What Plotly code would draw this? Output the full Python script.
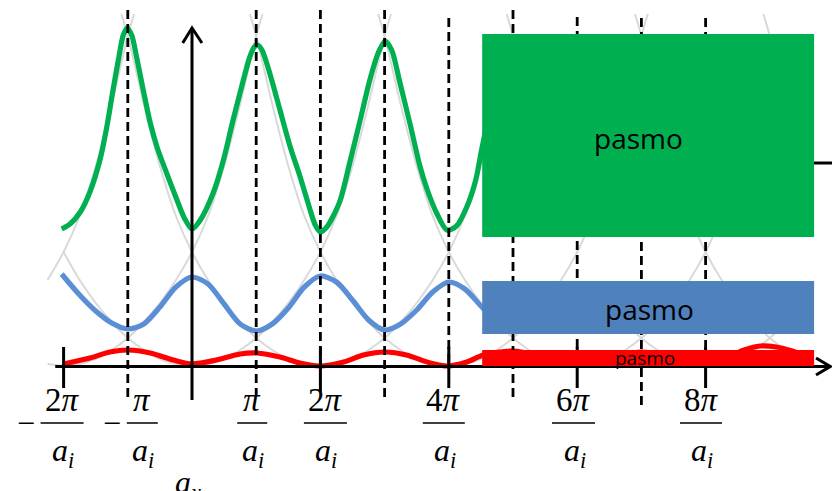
import plotly.graph_objects as go

# ---------------------------------------------------------------------------
# Data: wave vector k in units of pi/a_i, energy E in arbitrary units
# ---------------------------------------------------------------------------
green_k = [-2.03, -1.90, -1.74, -1.59, -1.43, -1.33, -1.23, -1.15, -1.07, -1.01,
           -0.94, -0.86, -0.75, -0.65, -0.54, -0.39, -0.24, -0.12, 0.00,
           0.12, 0.33, 0.49, 0.64, 0.80, 0.90, 0.97, 1.02, 1.09, 1.21, 1.37,
           1.53, 1.68, 1.84, 1.92, 2.00,
           2.10, 2.20, 2.31, 2.46, 2.62, 2.77, 2.90, 3.01, 3.11, 3.24, 3.40, 3.55,
           3.66, 3.81, 3.97, 4.12, 4.28, 4.42, 4.51, 4.62]
green_E = [137, 142, 154, 174, 207, 238, 276, 305, 331, 338,
           331, 308, 273, 243, 218, 192, 167, 148, 137,
           145, 173, 206, 246, 286, 309, 319, 321, 316, 293, 256,
           219, 190, 156, 141, 134,
           139, 150, 166, 204, 246, 286, 313, 325, 316, 283, 241, 200,
           177, 153, 136, 140, 159, 186, 216, 250]

blue_k = [-2.03, -1.75, -1.50, -1.25, -1.00, -0.75, -0.50, -0.25, 0.00,
          0.25, 0.50, 0.75, 1.00, 1.25, 1.50, 1.75, 2.00,
          2.25, 2.50, 2.75, 3.00, 3.25, 3.50, 3.75, 4.00, 4.25, 4.50, 4.65]
blue_E = [92, 71, 55, 43, 37, 42, 59, 79, 89,
          82, 62, 42, 35, 42, 58, 79, 90,
          84, 66, 46, 36, 42, 56, 74, 84, 77, 60, 50]

red_k = [-2.00, -1.59, -1.28, -0.99, -0.65, -0.29, 0.00, 0.38, 0.75, 1.01,
         1.37, 1.68, 1.99, 2.36, 2.67, 3.01, 3.34, 3.71, 3.99, 4.28, 4.54,
         5.00, 5.50, 6.00, 6.50, 7.00, 7.50, 8.00, 8.35, 8.60, 8.85, 9.10,
         9.35, 9.60]
red_E = [2, 8, 14, 16, 13, 6, 2, 6, 12, 13,
         9, 3, 0, 4, 11, 14, 11, 3, 0, 4, 11,
         15, 9, 1, 8, 14, 9, 2, 9, 16, 20, 19,
         15, 9]

# free-electron parabola: distance from its centre -> energy
free_d = [0, 0.25, 0.5, 0.75, 1.0, 1.25, 1.5, 1.75, 2.0, 2.25, 2.5, 2.75, 3.0, 3.1]
free_E = [0, 2, 7, 16, 28, 44, 63, 86, 114, 150, 200, 262, 330, 352]
# drawn branches: (centre, side, first point, last point)
free_branches = [(-4, 1, 7, 13), (-2, -1, 0, 1), (-2, 1, 0, 13),
                 (0, -1, 0, 8), (0, 1, 0, 13), (2, -1, 0, 13), (2, 1, 0, 12),
                 (4, -1, 0, 13), (4, 1, 0, 13), (6, -1, 0, 13), (6, 1, 0, 11),
                 (8, -1, 0, 6), (8, -1, 10, 13), (8, 1, 0, 6),
                 (10, -1, 2, 13), (12, -1, 10, 13)]

# Brillouin-zone boundaries and labelled reciprocal-lattice points
zone_lines = [-1, 1, 2, 3, 4, 5, 6, 7, 8]
tick_values = [-2, -1, 1, 2, 4, 6, 8]
tick_numerators = ["2<i>π</i>", "<i>π</i>", "<i>π</i>", "2<i>π</i>",
                   "4<i>π</i>", "6<i>π</i>", "8<i>π</i>"]
tick_signs = ["−", "−", "", "", "", "", ""]

band_labels = ["pasmo", "pasmo", "pasmo"]
band_low = [129, 32, 0]
band_high = [332, 85, 16]

# ---------------------------------------------------------------------------
# Styling / geometry
# ---------------------------------------------------------------------------
W, H = 832, 491
UNIT = 64.2          # pixels per pi/a_i
X0_PX = 192          # pixel column of k = 0
E0_PX = 366          # pixel row of E = 0
X_RANGE = [-X0_PX / UNIT, (W - X0_PX) / UNIT]
Y_RANGE = [E0_PX - H, E0_PX]

GREEN = "#00B050"
BLUE_LINE = "#5A8FD6"
BLUE_BOX = "#4F81BD"
RED = "#FF0000"
GREY = "#D9D9D9"
SERIF = "Liberation Serif, Times New Roman, serif"
SANS = "Open Sans, Noto Sans, sans-serif"

zone_top = [356, 356, 356, 356, 348, 356, 349, 348, 348]
zone_bottom = [-31, -29, 0, -31, 0, -31, 0, -42, 0]
label_shift_px = [-1.5, 14.5, -4, 5, -5, -3.7, -4.6]
label_bar_px = [43, 31, 30, 43, 42, 43, 42]
sign_px = [26, 111.5]
band_k = [4.52, 9.69]
band_text_shift_px = [-9.5, 1.5, -3]
band_text_dy = [-2, -1, 0]
band_font = [28, 28, 19]
band_fill = [GREEN, BLUE_BOX, RED]

fig = go.Figure()

# free-electron parabolas
for c, side, a, b in free_branches:
    fig.add_trace(go.Scatter(
        x=[c + side * free_d[i] for i in range(a, b + 1)],
        y=free_E[a:b + 1], mode="lines",
        line=dict(color=GREY, width=2, shape="spline"),
        hoverinfo="skip", showlegend=False))

# energy bands
for kk, ee, col in [(red_k, red_E, RED), (blue_k, blue_E, BLUE_LINE),
                    (green_k, green_E, GREEN)]:
    fig.add_trace(go.Scatter(
        x=kk, y=ee, mode="lines",
        line=dict(color=col, width=5.2, shape="spline", smoothing=0.8),
        hoverinfo="skip", showlegend=False))

shapes = []
# zone boundaries
for k, top, bot in zip(zone_lines, zone_top, zone_bottom):
    shapes.append(dict(type="line", xref="x", yref="y", x0=k, x1=k, y0=top, y1=bot,
                       line=dict(color="black", width=2.8, dash="9px,5px"),
                       layer="above"))
# ticks at even points
for k in tick_values:
    if k % 2 == 0:
        shapes.append(dict(type="line", xref="x", yref="y", x0=k, x1=k, y0=19,
                           y1=-26 if k == 2 else -22,
                           line=dict(color="black", width=3), layer="above"))
# axes with open arrow heads
shapes.append(dict(type="line", xref="x", yref="y", x0=-2.13, x1=9.94, y0=-0.5, y1=-0.5,
                   line=dict(color="black", width=3), layer="above"))
shapes.append(dict(type="path", xref="x", yref="y",
                   path="M 9.72,8 L 9.94,-0.5 L 9.72,-9",
                   line=dict(color="black", width=3), layer="above"))
shapes.append(dict(type="line", xref="x", yref="y", x0=0, x1=0, y0=-34, y1=337,
                   line=dict(color="black", width=3), layer="above"))
shapes.append(dict(type="path", xref="x", yref="y",
                   path="M -0.145,323 L 0,338 L 0.155,323",
                   line=dict(color="black", width=3), layer="above"))
shapes.append(dict(type="line", xref="x", yref="y", x0=9.5, x1=10.1, y0=203, y1=203,
                   line=dict(color="black", width=3), layer="above"))
# band ranges
for lo, hi, fill in zip(band_low, band_high, band_fill):
    shapes.append(dict(type="rect", xref="x", yref="y", x0=band_k[0], x1=band_k[1],
                       y0=lo, y1=hi, fillcolor=fill, line=dict(width=0),
                       layer="above"))

annotations = []
for i, (k, num, sign) in enumerate(zip(tick_values, tick_numerators, tick_signs)):
    xc = k + label_shift_px[i] / UNIT
    half = label_bar_px[i] / 2 / UNIT
    shapes.append(dict(type="line", xref="x", yref="y", x0=xc - half, x1=xc + half,
                       y0=-57, y1=-57, line=dict(color="black", width=1.5),
                       layer="above"))
    annotations.append(dict(x=xc, y=-33.5, xref="x", yref="y", text=num,
                            showarrow=False, xanchor="center", yanchor="middle",
                            font=dict(family=SERIF, size=33, color="black")))
    annotations.append(dict(x=xc + 1 / UNIT, y=-86, xref="x", yref="y",
                            text="<i>a<sub>i</sub></i>",
                            showarrow=False, xanchor="center", yanchor="middle",
                            font=dict(family=SERIF, size=32, color="black")))
    if sign:
        annotations.append(dict(x=(sign_px[i] - X0_PX) / UNIT, y=-57, xref="x",
                                yref="y", text=sign, showarrow=False,
                                xanchor="center", yanchor="middle",
                                font=dict(family=SERIF, size=32, color="black")))

annotations.append(dict(x=(188 - X0_PX) / UNIT, y=-96, xref="x", yref="y",
                        text="<i>a<sub>x</sub></i>", showarrow=False,
                        xanchor="center", yanchor="top",
                        font=dict(family=SERIF, size=32, color="black")))

for i, (lo, hi, txt) in enumerate(zip(band_low, band_high, band_labels)):
    annotations.append(dict(
        x=(band_k[0] + band_k[1]) / 2 + band_text_shift_px[i] / UNIT,
        y=(lo + hi) / 2 + band_text_dy[i], xref="x", yref="y", text=txt,
        showarrow=False, xanchor="center", yanchor="middle",
        font=dict(family=SANS, size=band_font[i], color="black")))

fig.update_layout(
    width=W, height=H, margin=dict(l=0, r=0, t=0, b=0),
    paper_bgcolor="white", plot_bgcolor="white",
    xaxis=dict(range=X_RANGE, visible=False, fixedrange=True),
    yaxis=dict(range=Y_RANGE, visible=False, fixedrange=True),
    shapes=shapes, annotations=annotations, showlegend=False)

fig.write_html("out.html")
